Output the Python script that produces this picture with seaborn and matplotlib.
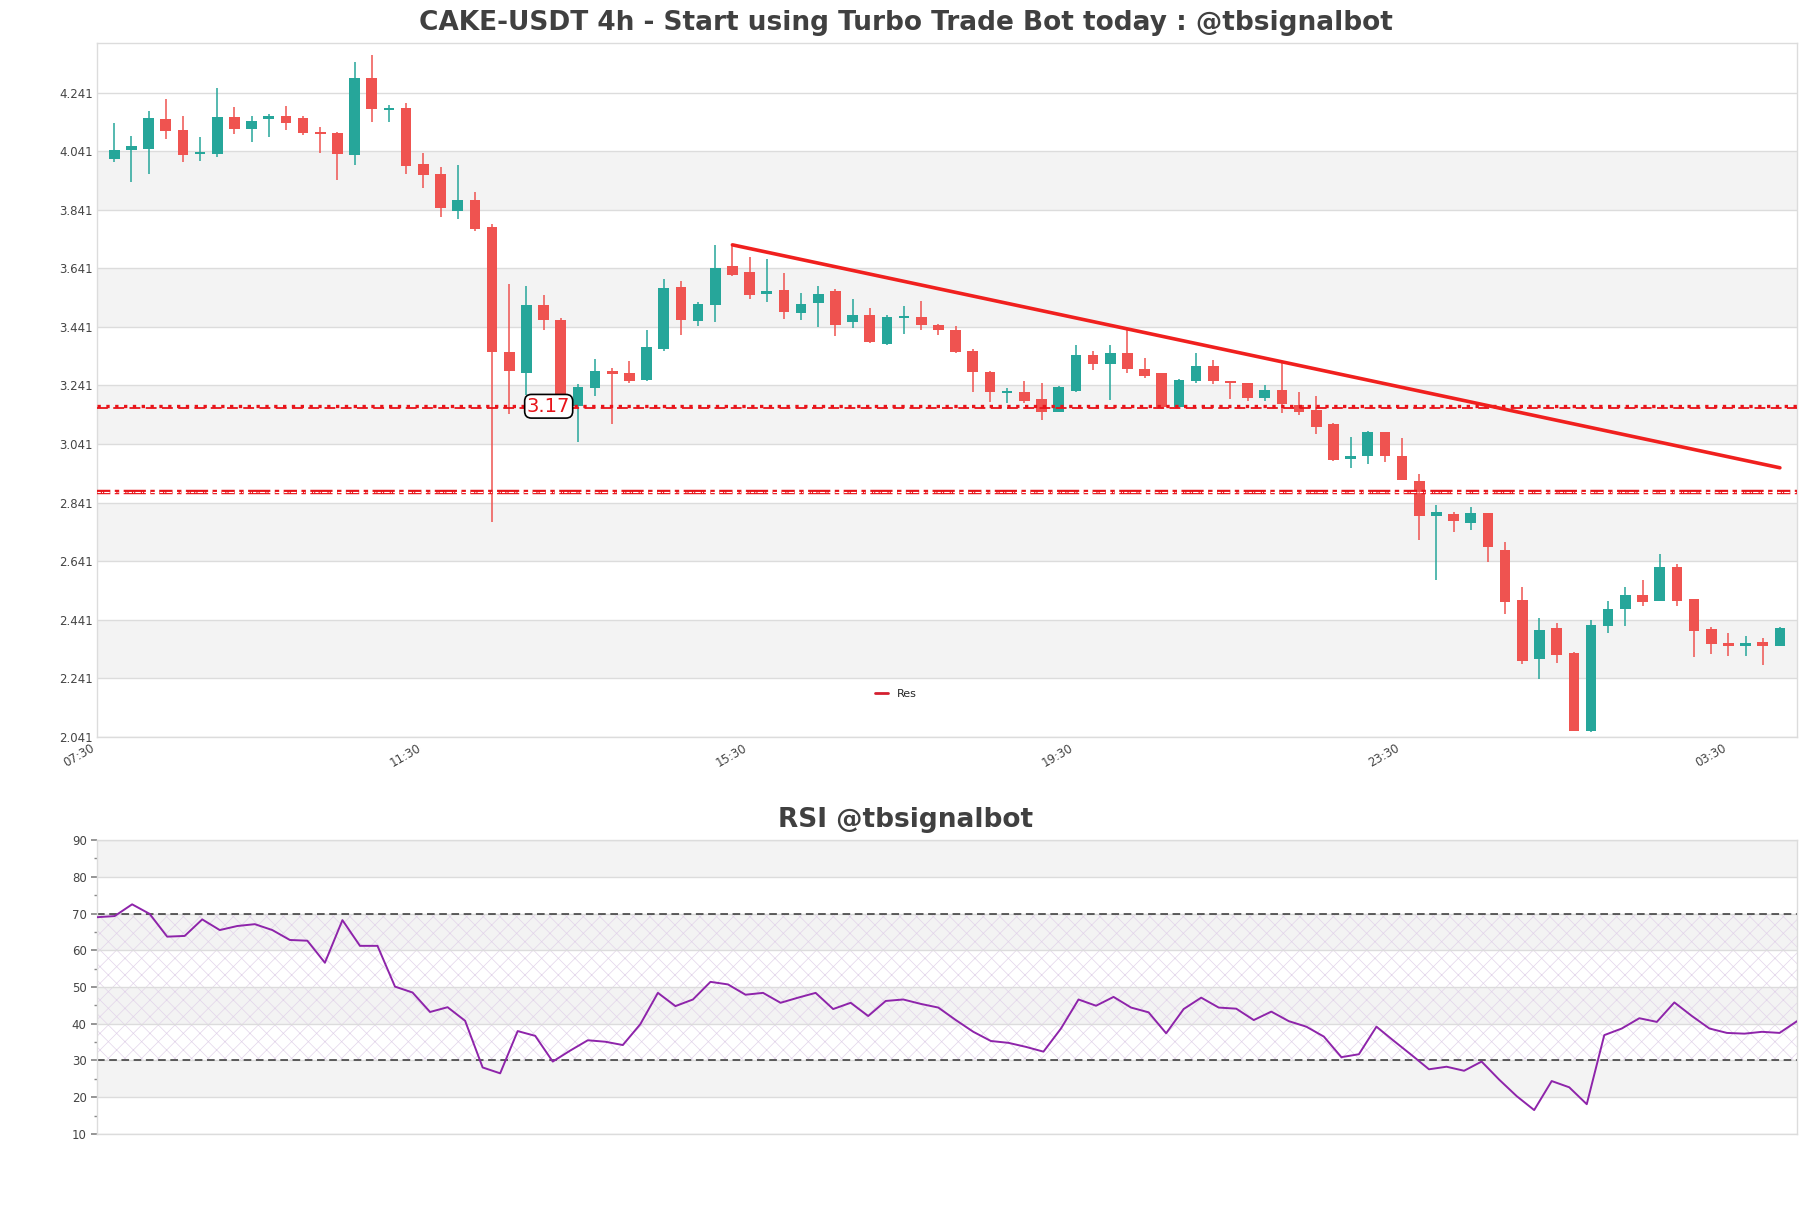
import numpy as np
import pandas as pd
import matplotlib
matplotlib.use("Agg")
import matplotlib.pyplot as plt
import seaborn as sns

# candle data
opens = [4.013, 4.045, 4.047, 4.150, 4.112, 4.030, 4.030, 4.157, 4.116, 4.150,
         4.160, 4.153, 4.105, 4.102, 4.027, 4.290, 4.181, 4.187, 3.996, 3.962,
         3.836, 3.873, 3.781, 3.355, 3.283, 3.514, 3.466, 3.171, 3.232, 3.289,
         3.285, 3.258, 3.367, 3.576, 3.460, 3.515, 3.648, 3.627, 3.553, 3.566,
         3.489, 3.522, 3.562, 3.457, 3.483, 3.384, 3.471, 3.476, 3.448, 3.432,
         3.359, 3.288, 3.215, 3.217, 3.195, 3.152, 3.222, 3.346, 3.313, 3.353,
         3.297, 3.284, 3.167, 3.257, 3.309, 3.257, 3.249, 3.199, 3.225, 3.174,
         3.158, 3.109, 2.990, 2.999, 3.081, 3.001, 2.916, 2.797, 2.803, 2.773,
         2.806, 2.680, 2.509, 2.308, 2.413, 2.328, 2.061, 2.421, 2.477, 2.526,
         2.506, 2.621, 2.512, 2.410, 2.361, 2.352, 2.364, 2.352]
highs = [4.136, 4.093, 4.177, 4.218, 4.160, 4.088, 4.256, 4.192, 4.160, 4.167,
         4.194, 4.160, 4.123, 4.105, 4.345, 4.369, 4.198, 4.205, 4.034, 3.986,
         3.993, 3.900, 3.791, 3.586, 3.579, 3.549, 3.470, 3.247, 3.330, 3.302,
         3.326, 3.432, 3.603, 3.596, 3.525, 3.720, 3.721, 3.681, 3.674, 3.624,
         3.558, 3.579, 3.571, 3.535, 3.506, 3.482, 3.511, 3.528, 3.452, 3.443,
         3.366, 3.291, 3.232, 3.256, 3.251, 3.240, 3.380, 3.359, 3.378, 3.438,
         3.336, 3.284, 3.264, 3.352, 3.328, 3.257, 3.249, 3.243, 3.318, 3.219,
         3.206, 3.114, 3.065, 3.085, 3.081, 3.060, 2.940, 2.834, 2.810, 2.825,
         2.806, 2.705, 2.554, 2.448, 2.431, 2.332, 2.442, 2.504, 2.554, 2.577,
         2.664, 2.633, 2.512, 2.417, 2.397, 2.385, 2.380, 2.417]
lows = [4.004, 3.936, 3.963, 4.082, 4.003, 4.006, 4.020, 4.099, 4.071, 4.088,
        4.112, 4.095, 4.034, 3.941, 3.993, 4.140, 4.140, 3.962, 3.914, 3.815,
        3.808, 3.767, 2.775, 3.145, 3.210, 3.430, 3.190, 3.047, 3.205, 3.111,
        3.248, 3.255, 3.357, 3.412, 3.443, 3.457, 3.615, 3.535, 3.526, 3.468,
        3.464, 3.442, 3.409, 3.436, 3.385, 3.379, 3.418, 3.430, 3.412, 3.351,
        3.217, 3.184, 3.180, 3.180, 3.123, 3.151, 3.219, 3.293, 3.190, 3.283,
        3.266, 3.160, 3.167, 3.251, 3.246, 3.195, 3.189, 3.189, 3.148, 3.139,
        3.077, 2.982, 2.959, 2.972, 2.979, 2.917, 2.712, 2.577, 2.741, 2.746,
        2.640, 2.461, 2.290, 2.238, 2.294, 2.061, 2.058, 2.397, 2.420, 2.489,
        2.506, 2.489, 2.315, 2.324, 2.317, 2.317, 2.286, 2.352]
closes = [4.044, 4.058, 4.153, 4.109, 4.027, 4.037, 4.157, 4.116, 4.143, 4.160,
          4.136, 4.102, 4.099, 4.030, 4.290, 4.184, 4.187, 3.989, 3.959, 3.846,
          3.873, 3.774, 3.355, 3.290, 3.514, 3.464, 3.200, 3.236, 3.292, 3.280,
          3.255, 3.371, 3.572, 3.464, 3.518, 3.641, 3.618, 3.550, 3.562, 3.491,
          3.520, 3.552, 3.447, 3.483, 3.390, 3.473, 3.478, 3.447, 3.430, 3.356,
          3.288, 3.220, 3.220, 3.188, 3.152, 3.236, 3.346, 3.313, 3.353, 3.296,
          3.275, 3.167, 3.260, 3.309, 3.255, 3.251, 3.198, 3.225, 3.178, 3.151,
          3.100, 2.986, 2.999, 3.081, 2.999, 2.917, 2.797, 2.809, 2.780, 2.806,
          2.688, 2.503, 2.300, 2.406, 2.320, 2.061, 2.423, 2.478, 2.526, 2.503,
          2.621, 2.506, 2.404, 2.359, 2.352, 2.361, 2.352, 2.414]

rsi = [69.0, 69.3, 72.5, 69.9, 63.7, 63.9, 68.4, 65.5, 66.6, 67.1,
       65.5, 62.8, 62.6, 56.6, 68.2, 61.2, 61.2, 50.1, 48.5, 43.2,
       44.5, 40.8, 28.1, 26.5, 38.0, 36.7, 29.7, 32.7, 35.5, 35.1,
       34.2, 39.9, 48.4, 44.8, 46.6, 51.4, 50.7, 47.9, 48.4, 45.7,
       47.1, 48.4, 44.0, 45.7, 42.1, 46.2, 46.6, 45.4, 44.4, 41.0,
       37.8, 35.3, 34.8, 33.7, 32.4, 38.7, 46.6, 44.9, 47.3, 44.4,
       43.1, 37.4, 44.0, 47.1, 44.4, 44.1, 41.0, 43.3, 40.7, 39.2,
       36.5, 30.9, 31.7, 39.2, 35.3, 31.5, 27.6, 28.3, 27.2, 29.7,
       24.8, 20.3, 16.5, 24.4, 22.7, 18.1, 36.9, 38.7, 41.5, 40.5,
       45.8, 42.1, 38.7, 37.5, 37.3, 37.8, 37.5, 40.7]

time_labels = ["07:30", "11:30", "15:30", "19:30", "23:30", "03:30"]
time_ticks = [-1, 18, 37, 56, 75, 94]

support_level = 3.17
lower_level = 2.876
res_idx = [36, 97]
res_val = [3.721, 2.960]

price_ticks = [2.041, 2.241, 2.441, 2.641, 2.841, 3.041, 3.241, 3.441, 3.641, 3.841, 4.041, 4.241]
rsi_ticks = [10, 20, 30, 40, 50, 60, 70, 80, 90]

df = pd.DataFrame({"open": opens, "high": highs, "low": lows, "close": closes})
df["idx"] = np.arange(len(df))
df["rsi"] = rsi
df["up"] = df["close"] >= df["open"]

GREEN = "#26a69a"
RED = "#ef5350"
GRID = "#dcdcdc"
BAND = "#f3f3f3"
TXT = "#444444"

sns.set_theme(style="white")
plt.rcParams["font.family"] = ["DejaVu Sans"]
plt.rcParams["hatch.linewidth"] = 0.5

fig = plt.figure(figsize=(18.11, 12.08), dpi=100)
ax = fig.add_axes([0.0536, 0.3899, 0.9387, 0.5745])
ax2 = fig.add_axes([0.0536, 0.0613, 0.9387, 0.2433])

# ---- price panel ----
for lo in [2.241, 2.641, 3.041, 3.441, 3.841]:
    ax.axhspan(lo, lo + 0.2, color=BAND, zorder=0, lw=0)
for t in price_ticks:
    ax.axhline(t, color=GRID, lw=1, zorder=0.5)

colors = np.where(df["up"], GREEN, RED)
ax.vlines(df["idx"], df["low"], df["high"], colors=colors, lw=1.1, zorder=2)
body_lo = np.minimum(df["open"], df["close"])
body_h = np.maximum(np.abs(df["close"] - df["open"]), 0.006)
ax.bar(df["idx"], body_h, bottom=body_lo, width=0.62, color=colors, lw=0, zorder=3)

# level lines
ax.axhline(support_level, color="#e8141a", lw=2.4, ls=":", zorder=4)
ax.axhline(support_level - 0.006, color="#e8141a", lw=1.3, ls=(0, (6, 3)), zorder=4)
ax.axhline(lower_level, color="#e8141a", lw=3.2, ls=(0, (3, 1, 1, 1, 5, 1, 1, 1)), zorder=4)
ax.axhline(lower_level, color="white", lw=0.8, ls=(0, (3, 1, 1, 1, 5, 1, 1, 1)), zorder=4.1)

ax.text(25.3, support_level, "3.17", color="#e8141a", fontsize=14, ha="center", va="center", zorder=6,
        bbox=dict(boxstyle="round,pad=0.12,rounding_size=0.35", fc="white", ec="black", lw=1.2))

res = pd.DataFrame({"x": res_idx, "y": res_val})
sns.lineplot(data=res, x="x", y="y", ax=ax, color="#f0201e", lw=2.6, label="Res", zorder=5)

ax.set_xlim(-1, len(df))
ax.set_ylim(2.041, 4.41)
ax.set_yticks(price_ticks)
ax.set_yticklabels([f"{t:.3f}" for t in price_ticks])
ax.set_xticks(time_ticks)
ax.set_xticklabels(time_labels, rotation=30, ha="right")
ax.tick_params(axis="both", length=0, labelsize=8.5, labelcolor=TXT, pad=3)
ax.set_xlabel("")
ax.set_ylabel("")
for s in ax.spines.values():
    s.set_color(GRID)
    s.set_linewidth(1)
leg = ax.legend(loc="center", bbox_to_anchor=(0.47, 0.062), frameon=False, fontsize=8,
                handlelength=1.2, handletextpad=0.8)
for h in leg.get_lines():
    h.set_color("#d42030")
    h.set_linewidth(2)

# ---- RSI panel ----
for lo in [20, 40, 60, 80]:
    ax2.axhspan(lo, lo + 10, color=BAND, zorder=0, lw=0)
ax2.axhspan(30, 70, facecolor="none", edgecolor="#e2d4ea", hatch="xx", lw=0, zorder=0.3)
for t in rsi_ticks:
    ax2.axhline(t, color=GRID, lw=1, zorder=0.5)
ax2.axhline(70, color="#333333", lw=1.1, ls=(0, (5, 3)), zorder=2)
ax2.axhline(30, color="#333333", lw=1.1, ls=(0, (5, 3)), zorder=2)
sns.lineplot(data=df, x="idx", y="rsi", ax=ax2, color="#8e24aa", lw=1.4, zorder=3)
ax2.set_xlim(0, len(df) - 1)
ax2.set_ylim(10, 90)
ax2.set_yticks(rsi_ticks)
ax2.set_yticks(np.arange(15, 90, 10), minor=True)
ax2.set_xticks([])
ax2.tick_params(axis="y", which="major", length=4, color="#888888", labelsize=8.5, labelcolor=TXT, left=True)
ax2.tick_params(axis="y", which="minor", length=2.5, color="#888888", left=True)
ax2.set_xlabel("")
ax2.set_ylabel("")
for s in ax2.spines.values():
    s.set_color(GRID)
    s.set_linewidth(1)

fig.text(0.5, 0.981, "CAKE-USDT 4h - Start using Turbo Trade Bot today : @tbsignalbot",
         ha="center", va="center", fontsize=19, fontweight="bold", color="#404040")
fig.text(0.5, 0.321, "RSI @tbsignalbot", ha="center", va="center", fontsize=19,
         fontweight="bold", color="#404040")

fig.savefig("out.png", dpi=100)
